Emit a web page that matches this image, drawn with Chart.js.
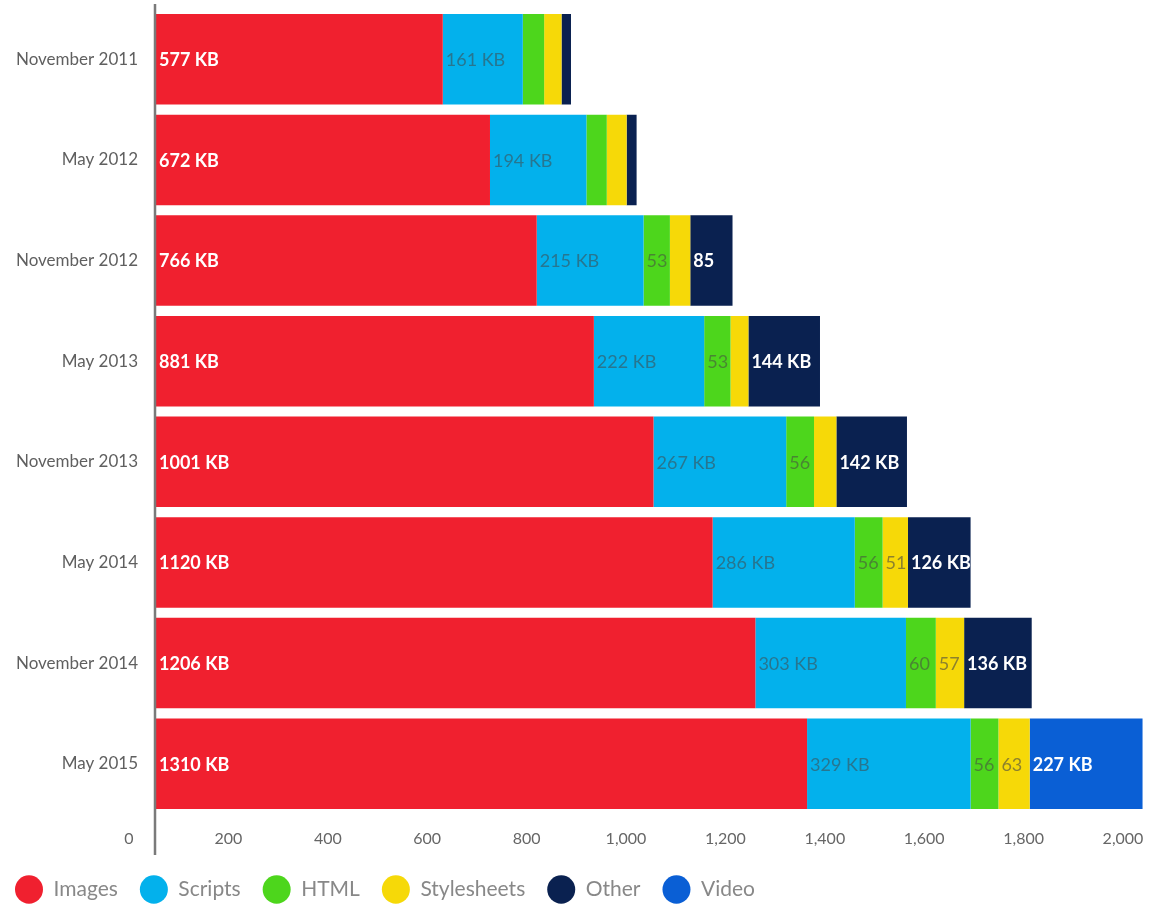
<!DOCTYPE html>
<html>
<head>
<meta charset="utf-8">
<title>Page weight by content type</title>
<script src="https://cdn.jsdelivr.net/npm/chart.js@4"></script>
<style>
  html, body { margin: 0; padding: 0; background: #fff; }
  #wrap { width: 1150px; height: 905px; }
</style>
</head>
<body>
<div id="wrap"><canvas id="pageChart"></canvas></div>
<script>
const months = ['November 2011', 'May 2012', 'November 2012', 'May 2013',
  'November 2013', 'May 2014', 'November 2014', 'May 2015'];

// KB per content type
const images = [577, 672, 766, 881, 1001, 1120, 1206, 1310];
const scripts = [161, 194, 215, 222, 267, 286, 303, 329];
const html = [43, 41, 53, 53, 56, 56, 60, 56];
const stylesheets = [35, 40, 41, 36, 45, 51, 57, 63];
const other = [19, 20, 85, 144, 142, 126, 136, 0];
const video = [0, 0, 0, 0, 0, 0, 0, 227];

const xTicks = [0, 200, 400, 600, 800, 1000, 1200, 1400, 1600, 1800, 2000];

const FONT = "Lato, 'Noto Sans', sans-serif";

// text inside the segments: nothing under 50, number only under 100
const segmentLabels = {
  id: 'segmentLabels',
  afterDatasetsDraw(chart) {
    const ctx = chart.ctx;
    ctx.save();
    ctx.textBaseline = 'middle';
    ctx.textAlign = 'left';
    chart.data.datasets.forEach((ds, i) => {
      const meta = chart.getDatasetMeta(i);
      meta.data.forEach((bar, j) => {
        const v = ds.data[j];
        if (!v || v < 50) return;
        const text = v >= 100 ? v + ' KB' : String(v);
        ctx.font = (ds.labelBold ? 'bold ' : '') + '18px ' + FONT;
        ctx.fillStyle = ds.labelColor;
        ctx.fillText(text, Math.min(bar.base, bar.x) + 3, bar.y + 1);
      });
    });
    ctx.restore();
  }
};

// long vertical axis line, runs past the plot at both ends
const axisLine = {
  id: 'axisLine',
  afterDraw(chart) {
    const ctx = chart.ctx;
    const a = chart.chartArea;
    ctx.save();
    ctx.strokeStyle = '#7a7a7a';
    ctx.lineWidth = 2.5;
    ctx.beginPath();
    ctx.moveTo(a.left - 1, 4);
    ctx.lineTo(a.left - 1, a.bottom + 41);
    ctx.stroke();
    ctx.restore();
  }
};

const ctx = document.getElementById('pageChart').getContext('2d');

new Chart(ctx, {
  type: 'bar',
  data: {
    labels: months,
    datasets: [
      { label: 'Images', data: images, backgroundColor: '#f0202f', labelColor: '#ffffff', labelBold: true },
      { label: 'Scripts', data: scripts, backgroundColor: '#03b1ec', labelColor: 'rgba(70,70,70,0.55)' },
      { label: 'HTML', data: html, backgroundColor: '#4dd61c', labelColor: 'rgba(70,70,70,0.55)' },
      { label: 'Stylesheets', data: stylesheets, backgroundColor: '#f6d908', labelColor: 'rgba(70,70,70,0.6)' },
      { label: 'Other', data: other, backgroundColor: '#0a2150', labelColor: '#ffffff', labelBold: true },
      { label: 'Video', data: video, backgroundColor: '#0a5fd5', labelColor: '#ffffff', labelBold: true }
    ]
  },
  options: {
    indexAxis: 'y',
    responsive: true,
    maintainAspectRatio: false,
    animation: false,
    layout: {
      // negative left/bottom pull the legend toward the canvas edges
      padding: { top: 9, right: 0, bottom: -5, left: -7 }
    },
    datasets: {
      bar: {
        categoryPercentage: 1,
        barPercentage: 0.9,
        borderWidth: 0
      }
    },
    scales: {
      x: {
        stacked: true,
        min: 0,
        max: 2000,
        grid: { display: false, drawTicks: false },
        border: { display: false },
        afterBuildTicks: scale => {
          scale.ticks = xTicks.map(v => ({ value: v }));
        },
        afterFit: scale => {
          scale.height = 43;
          scale.paddingLeft = 0;
          scale.paddingRight = 0;
        },
        ticks: {
          color: '#666',
          padding: 15,
          labelOffset: -27,
          maxRotation: 0,
          autoSkip: false,
          font: { family: FONT, size: 16 }
        }
      },
      y: {
        stacked: true,
        grid: { display: false, drawTicks: false },
        border: { display: false },
        afterFit: scale => {
          scale.width = 163;
          scale.paddingTop = 0;
          scale.paddingBottom = 0;
        },
        ticks: {
          color: '#5f5f5f',
          padding: 18,
          font: { family: FONT, size: 17 }
        }
      }
    },
    plugins: {
      legend: {
        display: true,
        position: 'bottom',
        align: 'start',
        labels: {
          usePointStyle: true,
          pointStyle: 'circle',
          pointStyleWidth: 28,
          boxHeight: 20,
          padding: 22,
          color: '#888',
          font: { family: FONT, size: 21, lineHeight: 1 }
        }
      },
      tooltip: { enabled: false }
    }
  },
  plugins: [segmentLabels, axisLine]
});
</script>
</body>
</html>
